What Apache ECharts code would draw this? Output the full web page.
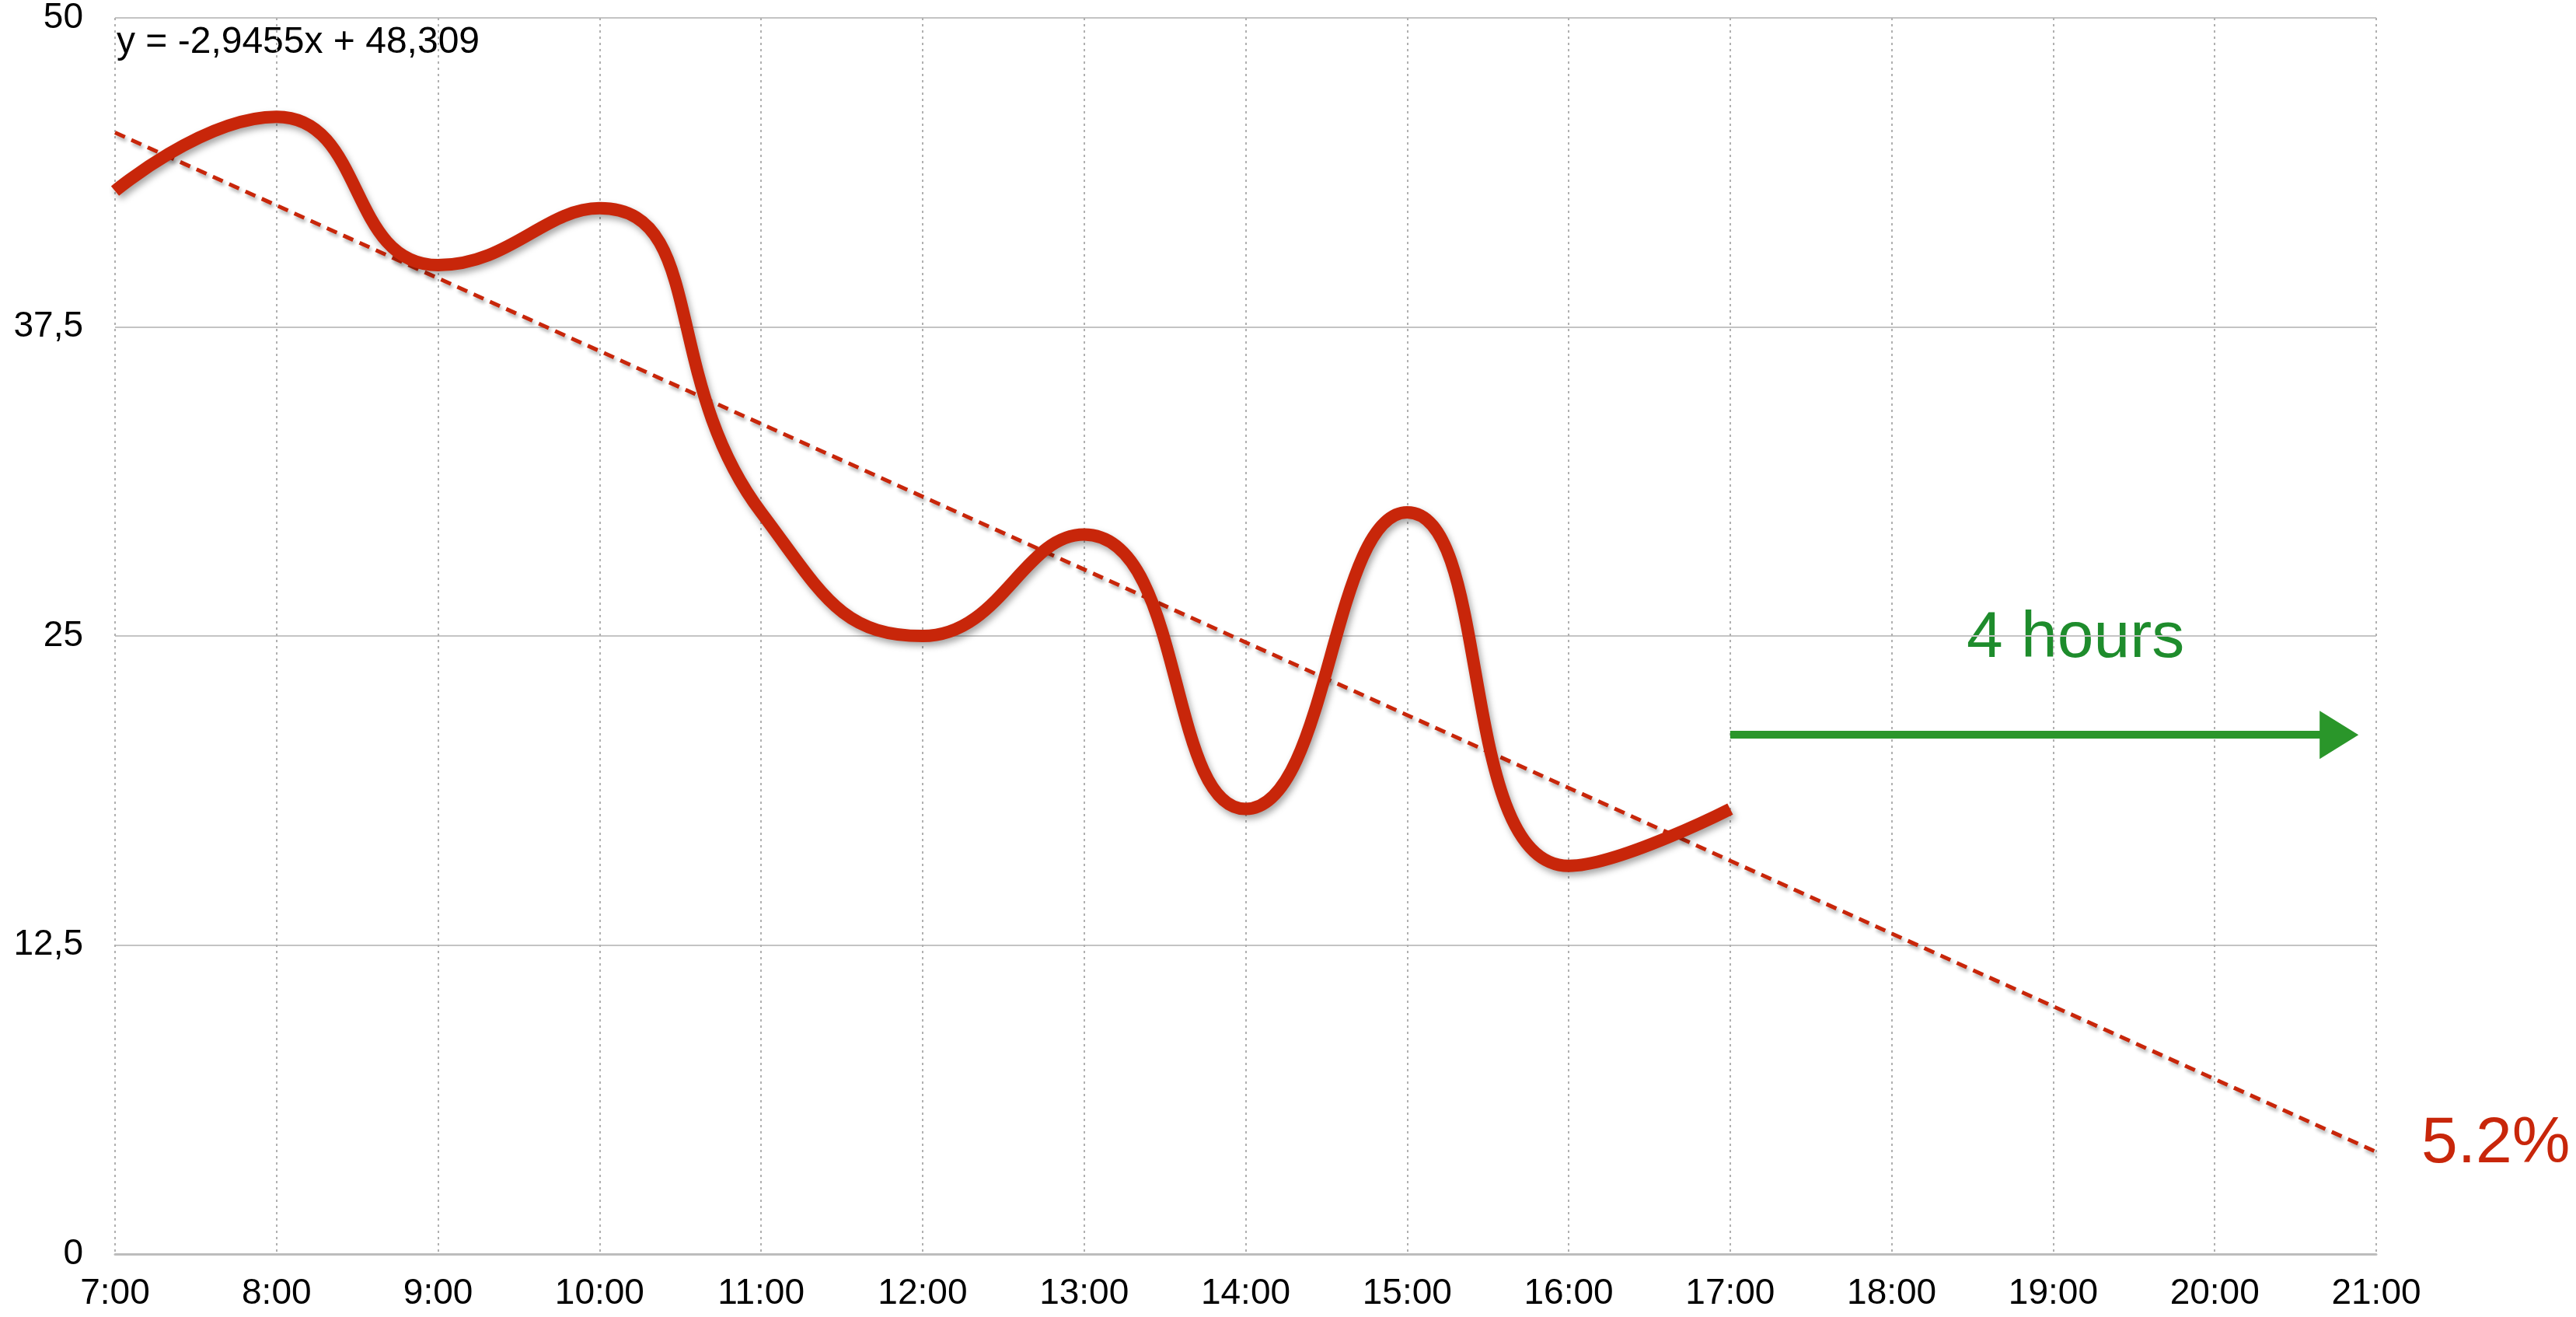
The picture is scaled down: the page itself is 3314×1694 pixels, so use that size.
<!DOCTYPE html>
<html>
<head>
<meta charset="utf-8">
<script src="https://cdn.jsdelivr.net/npm/echarts@6/dist/echarts.min.js"></script>
<style>
html, body { margin: 0; padding: 0; background: #fff; }
#line { width: 3314px; height: 1694px; }
</style>
</head>
<body>
<div id="line"></div>
<script>
// 数据（每小时）
const hours = [7, 8, 9, 10, 11, 12, 13, 14, 15, 16, 17]
const values = [43.0, 46.0, 40.0, 42.3, 30.0, 25.0, 29.1, 18.0, 30.0, 15.7, 18.0]
// 趋势线 y = -2,9455x + 48,309 的两端
const trendHours = [7, 21]
const trendValues = [45.36, 4.13]
// 箭头 "4 hours"
const arrowHours = [17, 20.77]
const arrowValue = 21
// 刻度
const xTickLabels = ['7:00', '8:00', '9:00', '10:00', '11:00', '12:00', '13:00', '14:00', '15:00', '16:00', '17:00', '18:00', '19:00', '20:00', '21:00']
const yTickLabels = ['0', '12,5', '25', '37,5', '50']

const red = '#c8260a'
const green = '#1e8c2c'
const font = '"Liberation Sans", Arial, sans-serif'

const chart = echarts.init(document.getElementById('line'))
const option = {
	animation: false,
	grid: {
		left: 148,
		right: 257,
		top: 21,
		bottom: 81
	},
	xAxis: {
		type: 'value',
		min: 7,
		max: 21,
		interval: 1,
		axisLine: {
			show: true,
			lineStyle: { color: '#bdbdbd', width: 3 }
		},
		axisTick: { show: false },
		axisLabel: {
			margin: 28,
			fontSize: 46,
			fontFamily: font,
			color: '#000',
			formatter: function (v) {
				return xTickLabels[Math.round(v) - 7]
			}
		},
		splitLine: {
			show: true,
			lineStyle: { color: '#b0b0b0', width: 2, type: [3, 5] }
		}
	},
	yAxis: {
		type: 'value',
		min: 0,
		max: 50,
		interval: 12.5,
		axisLine: { show: false },
		axisTick: { show: false },
		axisLabel: {
			margin: 41,
			fontSize: 46,
			fontFamily: font,
			color: '#000',
			formatter: function (v) {
				return yTickLabels[Math.round(v / 12.5)]
			}
		},
		splitLine: {
			lineStyle: { color: '#c4c4c4', width: 2 }
		}
	},
	graphic: [
		{
			type: 'text',
			left: 150,
			top: 31,
			style: {
				text: 'y = -2,9455x + 48,309',
				fontSize: 48,
				fontFamily: font,
				fill: '#000'
			}
		},
		{
			type: 'text',
			left: 2530,
			top: 780,
			style: {
				text: '4 hours',
				fontSize: 84,
				fontFamily: font,
				fill: green
			}
		}
	],
	series: [
		{
			// 趋势线
			type: 'line',
			data: trendHours.map((h, i) => [h, trendValues[i]]),
			symbol: 'none',
			z: 3,
			lineStyle: {
				color: red,
				width: 5,
				type: [14, 9],
				shadowColor: 'rgba(0,0,0,0.3)',
				shadowBlur: 4,
				shadowOffsetX: 2,
				shadowOffsetY: 4
			},
			endLabel: {
				show: true,
				formatter: '5.2%',
				distance: 58,
				offset: [0, -10],
				fontSize: 84,
				fontFamily: font,
				color: red
			}
		},
		{
			// 主曲线
			type: 'line',
			data: hours.map((h, i) => [h, values[i]]),
			smooth: 0.5,
			symbol: 'none',
			z: 4,
			lineStyle: {
				color: red,
				width: 16,
				shadowColor: 'rgba(0,0,0,0.35)',
				shadowBlur: 8,
				shadowOffsetX: 3,
				shadowOffsetY: 5
			}
		},
		{
			// 箭头
			type: 'line',
			data: [],
			markLine: {
				silent: true,
				symbol: ['none', 'triangle'],
				symbolSize: [62, 50],
				label: { show: false },
				lineStyle: { color: '#2a962a', width: 10, type: 'solid' },
				data: [[{ coord: [arrowHours[0], arrowValue] }, { coord: [arrowHours[1], arrowValue] }]]
			}
		}
	]
}
chart.setOption(option)
window.addEventListener('resize', function () {
	chart.resize()
})
</script>
</body>
</html>
